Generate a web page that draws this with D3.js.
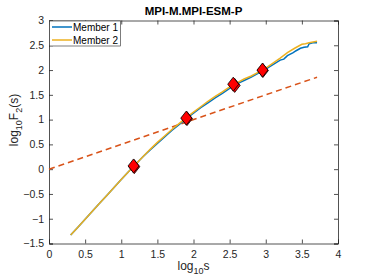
<!DOCTYPE html>
<html>
<head>
<meta charset="utf-8">
<script src="https://cdn.jsdelivr.net/npm/d3@7"></script>
<style>
  body { margin: 0; background: #fff; }
  text { font-family: "Liberation Sans", Arial, sans-serif; }
</style>
</head>
<body>
<div id="chart"></div>
<script>
// data
var title = "MPI-M.MPI-ESM-P";
var seriesNames = ["Member 1", "Member 2"];

var member1 = [
  [0.3, -1.33], [0.4, -1.17], [0.5, -1.01], [0.6, -0.85], [0.7, -0.69], [0.8, -0.53],
  [0.9, -0.37], [1.0, -0.21], [1.1, -0.05], [1.2, 0.10], [1.3, 0.25], [1.4, 0.39],
  [1.5, 0.52], [1.6, 0.65], [1.7, 0.78], [1.8, 0.90], [1.9, 1.02], [2.0, 1.13],
  [2.1, 1.24], [2.2, 1.34], [2.3, 1.44], [2.4, 1.53], [2.5, 1.63], [2.6, 1.72],
  [2.7, 1.79], [2.8, 1.86], [2.9, 1.94], [3.0, 2.02], [3.1, 2.11], [3.2, 2.20],
  [3.25, 2.22], [3.3, 2.29], [3.38, 2.35], [3.42, 2.39], [3.48, 2.44], [3.53, 2.46],
  [3.58, 2.47], [3.6, 2.53], [3.65, 2.55], [3.71, 2.55]
];
var member2 = [
  [0.3, -1.33], [0.4, -1.17], [0.5, -1.01], [0.6, -0.85], [0.7, -0.69], [0.8, -0.53],
  [0.9, -0.37], [1.0, -0.21], [1.1, -0.05], [1.2, 0.10], [1.3, 0.25], [1.4, 0.40],
  [1.5, 0.54], [1.6, 0.67], [1.7, 0.80], [1.8, 0.92], [1.9, 1.04], [2.0, 1.15],
  [2.1, 1.26], [2.2, 1.37], [2.3, 1.47], [2.4, 1.56], [2.5, 1.66], [2.6, 1.74],
  [2.7, 1.82], [2.8, 1.88], [2.9, 1.96], [3.0, 2.04], [3.1, 2.14], [3.2, 2.24],
  [3.3, 2.35], [3.4, 2.44], [3.5, 2.52], [3.55, 2.53], [3.6, 2.55], [3.71, 2.58]
];
var fitLine = [[0, 0], [3.71, 1.855]];
var markers1 = [[1.18, 0.05], [1.91, 1.02], [2.57, 1.69], [2.96, 1.99]];
var markers2 = [[1.17, 0.065], [1.90, 1.03], [2.55, 1.715], [2.955, 2.0]];

var xTicks = [0, 0.5, 1, 1.5, 2, 2.5, 3, 3.5, 4];
var yTicks = [-1.5, -1, -0.5, 0, 0.5, 1, 1.5, 2, 2.5, 3];

var width = 374, height = 280,
    margin = { left: 49, right: 36, top: 20.5, bottom: 36.5 };

var colors = ["#0072BD", "#EDB120"];
var fitColor = "#D95319";

var svg = d3.select("#chart").append("svg")
    .attr("width", width)
    .attr("height", height);

var x = d3.scaleLinear().domain([0, 4]).range([margin.left, width - margin.right]);
var y = d3.scaleLinear().domain([-1.5, 3]).range([height - margin.bottom, margin.top]);

// axes with inward ticks, box on
var tickCol = "#262626";
svg.append("g")
    .attr("transform", "translate(0," + y(-1.5) + ")")
    .call(d3.axisBottom(x).tickValues(xTicks).tickSize(-4).tickPadding(7).tickFormat(d3.format("")))
    .call(styleAxis);
svg.append("g")
    .attr("transform", "translate(0," + y(3) + ")")
    .call(d3.axisTop(x).tickValues(xTicks).tickSize(-4).tickFormat(""))
    .call(styleAxis);
svg.append("g")
    .attr("transform", "translate(" + x(0) + ",0)")
    .call(d3.axisLeft(y).tickValues(yTicks).tickSize(-4).tickPadding(5).tickFormat(d3.format("")))
    .call(styleAxis);
svg.append("g")
    .attr("transform", "translate(" + x(4) + ",0)")
    .call(d3.axisRight(y).tickValues(yTicks).tickSize(-4).tickFormat(""))
    .call(styleAxis);

function styleAxis(g) {
    g.select(".domain").attr("stroke", tickCol).attr("stroke-width", 0.8);
    g.selectAll(".tick line").attr("stroke", tickCol).attr("stroke-width", 0.8);
    g.selectAll(".tick text").attr("fill", tickCol).style("font-size", "10.5px")
        .style("font-family", "Liberation Sans, Arial, sans-serif");
}

var line = d3.line().x(function(d) { return x(d[0]); }).y(function(d) { return y(d[1]); });

// dashed fit
svg.append("path")
    .datum(fitLine)
    .attr("d", line)
    .attr("fill", "none")
    .attr("stroke", fitColor)
    .attr("stroke-width", 1.5)
    .attr("stroke-dasharray", "6,4");

[member1, member2].forEach(function(s, i) {
    svg.append("path")
        .datum(s)
        .attr("d", line)
        .attr("fill", "none")
        .attr("stroke", colors[i])
        .attr("stroke-width", 1.5);
});

var diamond = "M0,-7L5.5,0L0,7L-5.5,0Z";
[markers1, markers2].forEach(function(m) {
    svg.append("g").selectAll("path")
        .data(m)
        .enter().append("path")
        .attr("d", diamond)
        .attr("transform", function(d) { return "translate(" + x(d[0]) + "," + y(d[1]) + ")"; })
        .attr("fill", "#FF0000")
        .attr("stroke", "#000")
        .attr("stroke-width", 0.8);
});

// legend
var lg = svg.append("g");
lg.append("rect")
    .attr("x", x(0) + 0.5).attr("y", y(3) + 0.5)
    .attr("width", 71).attr("height", 25)
    .attr("fill", "#fff").attr("stroke", tickCol).attr("stroke-width", 0.6);
seriesNames.forEach(function(name, i) {
    var yy = y(3) + 6.5 + i * 13;
    lg.append("line")
        .attr("x1", x(0) + 3).attr("x2", x(0) + 23)
        .attr("y1", yy).attr("y2", yy)
        .attr("stroke", colors[i]).attr("stroke-width", 1.5);
    lg.append("text")
        .attr("x", x(0) + 24).attr("y", yy + 3.6)
        .style("font-size", "10px").attr("fill", "#000")
        .text(name);
});

// title
svg.append("text")
    .attr("x", (x(0) + x(4)) / 2).attr("y", 15)
    .attr("text-anchor", "middle")
    .style("font-size", "11.5px").style("font-weight", "bold")
    .text(title);

// axis labels
var xl = svg.append("text")
    .attr("x", (x(0) + x(4)) / 2).attr("y", 270)
    .attr("text-anchor", "middle")
    .style("font-size", "12px").attr("fill", tickCol);
xl.append("tspan").text("log");
xl.append("tspan").attr("dy", 4).style("font-size", "9px").text("10");
xl.append("tspan").attr("dy", -4).text("s");

var yl = svg.append("text")
    .attr("transform", "translate(18,120) rotate(-90)")
    .attr("text-anchor", "middle")
    .style("font-size", "12px").attr("fill", tickCol);
yl.append("tspan").text("log");
yl.append("tspan").attr("dy", 4).style("font-size", "9px").text("10");
yl.append("tspan").attr("dy", -4).text("F");
yl.append("tspan").attr("dy", 4).style("font-size", "9px").text("2");
yl.append("tspan").attr("dy", -4).text("(s)");
</script>
</body>
</html>
